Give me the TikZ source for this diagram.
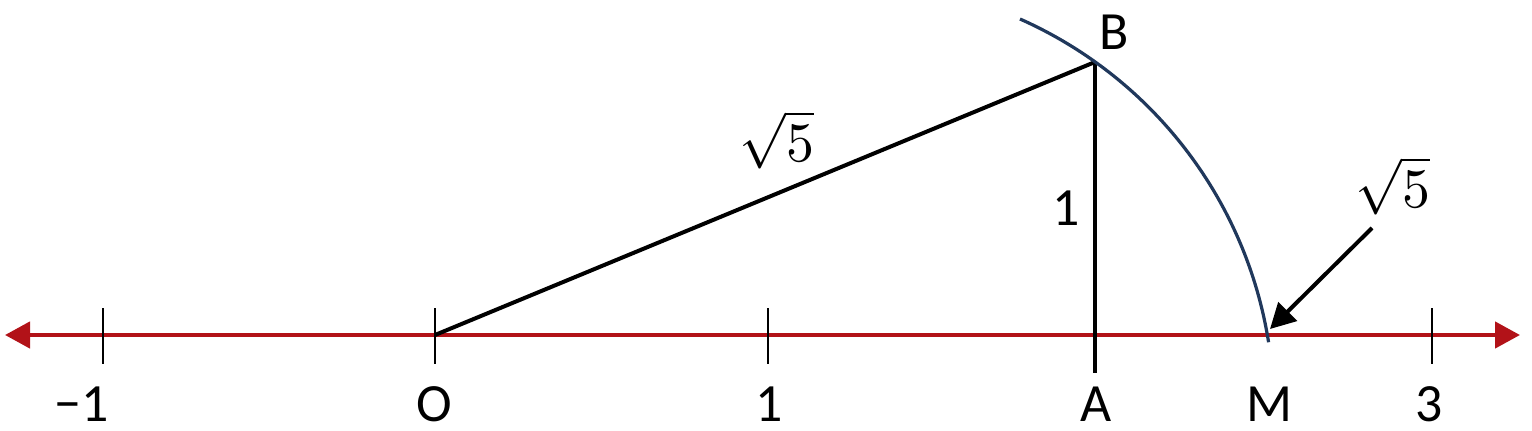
\documentclass[tikz,border=0pt]{standalone}
\usepackage{graphicx}
\usepackage{fontspec}
\setmainfont{Carlito}
\usetikzlibrary{arrows.meta}
\definecolor{axisred}{RGB}{178,18,24}
\definecolor{arcblue}{RGB}{32,56,92}
\tikzset{
  lbl/.style={font=\fontsize{54}{60}\selectfont, inner sep=0pt, anchor=base},
  mlbl/.style={inner sep=0pt},
  ticklin/.style={line width=2.7bp, black},
  segline/.style={line width=4bp, black},
  axisline/.style={axisred, line width=4.5bp, {Triangle[length=25bp,width=26bp]}-{Triangle[length=25bp,width=26bp]}},
  arcline/.style={arcblue, line width=3.2bp},
  pointer/.style={line width=4bp, black, -{Triangle[length=25bp,width=26bp]}}
}
\begin{document}
\begin{tikzpicture}[x=1bp,y=-1bp]
\useasboundingbox (0,0) rectangle (1532,430);
% axis
\coordinate (L) at (5,335);
\coordinate (R) at (1520,335);
\draw[axisline] (L) -- (R);
% ticks
\coordinate (tm1a) at (103,308); \coordinate (tm1b) at (103,364);
\coordinate (t0a) at (435,308); \coordinate (t0b) at (435,364);
\coordinate (t1a) at (768,308); \coordinate (t1b) at (768,364);
\coordinate (t3a) at (1432,308); \coordinate (t3b) at (1432,364);
\draw[ticklin] (tm1a) -- (tm1b);
\draw[ticklin] (t0a) -- (t0b);
\draw[ticklin] (t1a) -- (t1b);
\draw[ticklin] (t3a) -- (t3b);
% points
\coordinate (O) at (435,335);
\coordinate (B) at (1095,62);
\coordinate (Abot) at (1095,373);
\draw[segline] (O) -- (B);
\draw[segline] (B) -- (Abot);
% arc (centre 847,409; radius 427)
\coordinate (ArcTop) at (1020,19);
\draw[arcline] (ArcTop) arc[start angle=-66.08, end angle=-9.04, radius=427];
% pointer
\coordinate (P) at (1372,228);
\coordinate (M) at (1270,329);
\draw[pointer] (P) -- (M);
% labels
\node[lbl] (lm1) at (82,421) {−1};
\node[lbl] (lO) at (434,421) {O};
\node[lbl] (l1) at (769,421) {1};
\node[lbl] (lA) at (1096,421) {A};
\node[lbl] (lM) at (1269,421) {M};
\node[lbl] (l3) at (1429,421) {3};
\node[lbl] (lB) at (1114,49.5) {B};
\node[lbl] (lone) at (1066,225) {1};
\node[mlbl] (s1) at (777,140) {\scalebox{5.6}{$\sqrt{5}$}};
\node[mlbl] (s2) at (1393,186) {\scalebox{5.6}{$\sqrt{5}$}};
\end{tikzpicture}
\end{document}
